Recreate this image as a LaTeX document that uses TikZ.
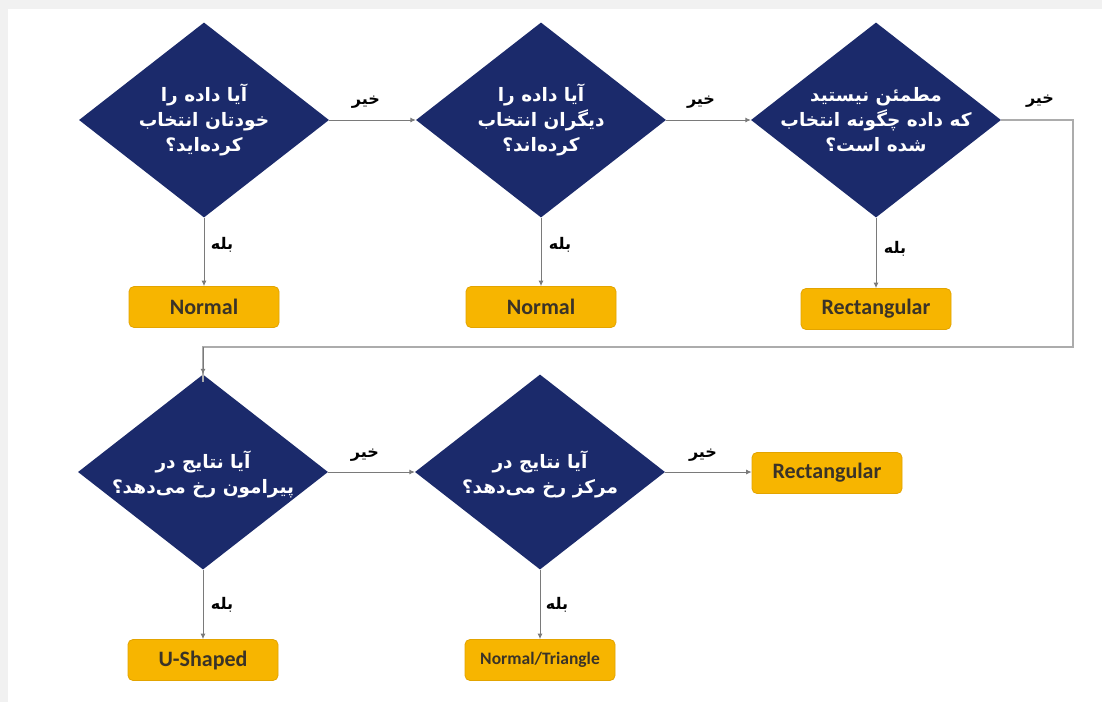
\documentclass[tikz,border=0pt]{standalone}
\usepackage{fontspec}
\usetikzlibrary{shapes.geometric,arrows.meta}
\TeXXeTstate=1
\newfontfamily\arabicfont[Script=Arabic]{DejaVu Sans}
\newfontfamily\boxfont{Carlito}
\definecolor{navy}{HTML}{1B2A6B}
\definecolor{gold}{HTML}{F7B500}
\definecolor{goldedge}{HTML}{E3A400}
\definecolor{frame}{HTML}{F1F1F1}
\definecolor{linegray}{HTML}{7A7A7A}
\definecolor{boxtext}{HTML}{3A3328}
\tikzset{
  decision/.style={diamond, fill=navy, draw=none, minimum width=250pt, minimum height=195pt, inner sep=0pt},
  dtext/.style={font=\arabicfont\bfseries\fontsize{18.5}{25}\selectfont, text=white, align=center, inner sep=0pt},
  result/.style={rectangle, rounded corners=5pt, fill=gold, draw=goldedge, line width=0.8pt, minimum width=150pt, minimum height=41pt, font=\boxfont\bfseries\fontsize{22}{24}\selectfont, text=boxtext},
  lbl/.style={font=\arabicfont\bfseries\fontsize{16}{18}\selectfont, text=black, inner sep=0pt},
  conn/.style={draw=linegray, line width=0.9pt, -{Latex[length=5.5pt,width=5pt]}},
}
\begin{document}
\begin{tikzpicture}[x=1pt,y=-1pt]
\useasboundingbox (0,0) rectangle (1102,702);
\fill[frame] (0,0) rectangle (1102,702);
\fill[white] (8,9) rectangle (1102,702);
% decisions
\node[decision] (d1) at (204,120) {};
\node[decision] (d2) at (541,120) {};
\node[decision] (d3) at (876,120) {};
\node[decision] (d4) at (203,472) {};
\node[decision] (d5) at (540,472) {};
\node[dtext] (t1) at (d1) {\beginR آیا داده را\endR\\\beginR خودتان انتخاب\endR\\\beginR کرده^^^^200cاید؟\endR};
\node[dtext] (t2) at (d2) {\beginR آیا داده را\endR\\\beginR دیگران انتخاب\endR\\\beginR کرده^^^^200cاند؟\endR};
\node[dtext] (t3) at (d3) {\beginR مطمئن نیستید\endR\\\beginR که داده چگونه انتخاب\endR\\\beginR شده است؟\endR};
\node[dtext] (t4) at ([yshift=-2pt]d4) {\beginR آیا نتایج در\endR\\\beginR پیرامون رخ می^^^^200cدهد؟\endR};
\node[dtext] (t5) at ([yshift=-2pt]d5) {\beginR آیا نتایج در\endR\\\beginR مرکز رخ می^^^^200cدهد؟\endR};
% results
\node[result] (n1) at (204,307) {Normal};
\node[result] (n2) at (541,307) {Normal};
\node[result] (r1) at (876,309) {Rectangular};
\node[result] (r2) at (827,473) {Rectangular};
\node[result] (u1) at (203,660) {U-Shaped};
\node[result, font=\boxfont\bfseries\fontsize{17.5}{19}\selectfont] (nt) at (540,660) {Normal/Triangle};
% corner of the long connector
\coordinate (c1) at (1073,120);
\coordinate (c2) at (1073,347);
\coordinate (c3) at (203,347);
% connectors
\draw[conn] (d1.east) -- (d2.west);
\draw[conn] (d2.east) -- (d3.west);
\draw[conn] (d4.east) -- (d5.west);
\draw[conn] (d5.east) -- (d5.east -| r2.west);
\draw[conn] (d1.south) -- (n1.north);
\draw[conn] (d2.south) -- (n2.north);
\draw[conn] (d3.south) -- (r1.north);
\draw[conn] (d4.south) -- (u1.north);
\draw[conn] (d5.south) -- (nt.north);
\draw[draw=gray!65, line width=1.6pt] (d3.east) -- (c1) -- (c2) -- (c3) -- ([yshift=-8pt]d4.north);
\draw[conn] (c3) -- (d4.north);
% labels
\node[lbl] (l1) at (366,102) {\beginR خیر\endR};
\node[lbl] (l2) at (701,102) {\beginR خیر\endR};
\node[lbl] (l3) at (1040,101) {\beginR خیر\endR};
\node[lbl] (l4) at (365,455) {\beginR خیر\endR};
\node[lbl] (l5) at (703,455) {\beginR خیر\endR};
\node[lbl] (b1) at (222,245) {\beginR بله\endR};
\node[lbl] (b2) at (560,245) {\beginR بله\endR};
\node[lbl] (b3) at (895,249) {\beginR بله\endR};
\node[lbl] (b4) at (222,605) {\beginR بله\endR};
\node[lbl] (b5) at (557,605) {\beginR بله\endR};
\end{tikzpicture}
\end{document}
